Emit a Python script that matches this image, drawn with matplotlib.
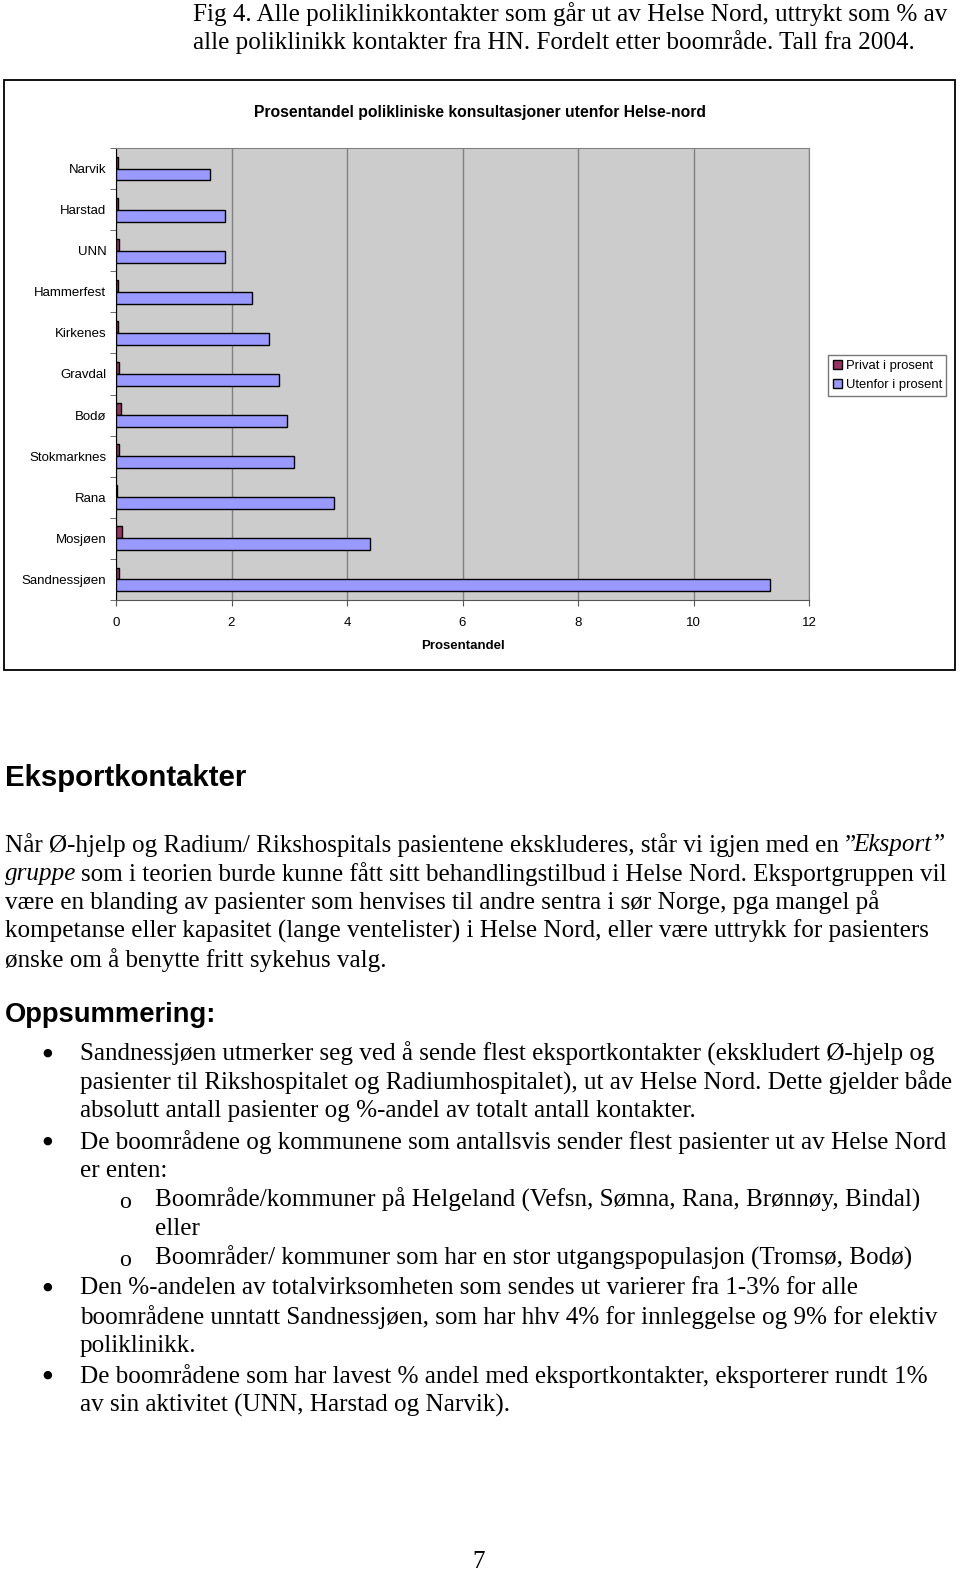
import matplotlib.pyplot as plt
import matplotlib.patches as mpatches
import numpy as np

# data lest av figuren (prosent)
boomrader = ["Narvik", "Harstad", "UNN", "Hammerfest", "Kirkenes", "Gravdal",
             "Bodø", "Stokmarknes", "Rana", "Mosjøen", "Sandnessjøen"]
privat = [0.03, 0.03, 0.06, 0.03, 0.03, 0.06, 0.08, 0.05, 0.02, 0.10, 0.06]
utenfor = [1.63, 1.89, 1.89, 2.35, 2.65, 2.83, 2.96, 3.08, 3.77, 4.39, 11.32]
x_ticks = [0, 2, 4, 6, 8, 10, 12]

caption = ["Fig 4. Alle poliklinikkontakter som går ut av Helse Nord, uttrykt som % av",
           "alle poliklinikk kontakter fra HN. Fordelt etter boområde. Tall fra 2004."]
chart_title = "Prosentandel polikliniske konsultasjoner utenfor Helse-nord"

W, H = 960, 1573
SERIF = "Liberation Serif"
SANS = "Liberation Sans"
DY = 5  # liten forskyvning nedover for tekst


def fx(px):
    return px / W


def fy(py):
    return 1 - (py + DY) / H


fig = plt.figure(figsize=(W / 100, H / 100), dpi=100)
fs = 18.1

# figurtekst over diagrammet
for i, linje in enumerate(caption):
    fig.text(fx(193), fy(9 + 28.5 * i), linje, family=SERIF, fontsize=fs,
             va="center", ha="left")

# ramme rundt diagrammet
fig.patches.append(mpatches.Rectangle((fx(4), 1 - 670 / H), fx(951), 590 / H,
                                      transform=fig.transFigure, fill=False,
                                      edgecolor="black", linewidth=1.3))
fig.text(fx(480), fy(108), chart_title, family=SANS, fontsize=11.3,
         fontweight="bold", ha="center", va="center")

ax = fig.add_axes([fx(116), 1 - 600 / H, 693 / W, 452 / H])
ax.set_facecolor("#cccccc")
y = np.arange(len(boomrader))
h = 0.29
ax.barh(y - h / 2, privat, height=h, color="#993366", edgecolor="black",
        linewidth=1, label="Privat i prosent", zorder=3)
ax.barh(y + h / 2, utenfor, height=h, color="#9999ff", edgecolor="black",
        linewidth=1, label="Utenfor i prosent", zorder=3)
ax.set_xlim(0, 12)
ax.set_ylim(len(boomrader) - 0.5, -0.5)
ax.set_xticks(x_ticks)
ax.set_xticklabels([str(t) for t in x_ticks], family=SANS, fontsize=9.5)
ax.set_yticks(y)
ax.set_yticklabels(boomrader, family=SANS, fontsize=9.5)
ax.set_yticks(np.arange(len(boomrader) + 1) - 0.5, minor=True)
ax.tick_params(axis="y", which="major", length=0, pad=7)
ax.tick_params(axis="y", which="minor", length=4, color="#555555")
ax.tick_params(axis="x", length=4, color="#555555", pad=8)
ax.grid(axis="x", color="#808080", linewidth=1, zorder=0)
ax.spines["left"].set_color("black")
ax.spines["bottom"].set_color("#555555")
ax.spines["top"].set_color("#808080")
ax.spines["right"].set_color("#808080")
ax.set_xlabel("Prosentandel", family=SANS, fontsize=9.5, fontweight="bold",
              labelpad=8)

leg = fig.legend(loc="upper left", bbox_to_anchor=(fx(828), 1 - 355 / H),
                 prop={"family": SANS, "size": 9.4}, frameon=True, fancybox=False,
                 handlelength=0.7, handleheight=0.7, handletextpad=0.3,
                 borderpad=0.35, labelspacing=0.55, borderaxespad=0)
leg.get_frame().set_edgecolor("#555555")
leg.get_frame().set_linewidth(1)

# overskrifter
fig.text(fx(5), fy(773), "Eksportkontakter", family=SANS, fontsize=21.2,
         fontweight="bold", va="center")
fig.text(fx(5), fy(1010), "Oppsummering:", family=SANS, fontsize=19.7,
         fontweight="bold", va="center")

# avsnitt
fig.text(fx(5), fy(840), "Når Ø-hjelp og Radium/ Rikshospitals pasientene ekskluderes, står vi igjen med en ”",
         family=SERIF, fontsize=fs, va="center")
fig.text(fx(946), fy(840), "Eksport”", family=SERIF, fontsize=fs,
         style="italic", va="center", ha="right")
fig.text(fx(5), fy(869), "gruppe", family=SERIF, fontsize=fs, style="italic",
         va="center")
fig.text(fx(81), fy(869), "som i teorien burde kunne fått sitt behandlingstilbud i Helse Nord. Eksportgruppen vil",
         family=SERIF, fontsize=fs, va="center")
avsnitt = ["være en blanding av pasienter som henvises til andre sentra i sør Norge, pga mangel på",
           "kompetanse eller kapasitet (lange ventelister) i Helse Nord, eller være uttrykk for pasienters",
           "ønske om å benytte fritt sykehus valg."]
for i, linje in enumerate(avsnitt):
    fig.text(fx(5), fy(897 + 29 * i), linje, family=SERIF, fontsize=fs,
             va="center")

# punktliste: (nivå, punkt?, tekst, y)
punkter = [
    (0, True, "Sandnessjøen utmerker seg ved å sende flest eksportkontakter (ekskludert Ø-hjelp og", 1049),
    (0, False, "pasienter til Rikshospitalet og Radiumhospitalet), ut av Helse Nord. Dette gjelder både", 1078),
    (0, False, "absolutt antall pasienter og %-andel av totalt antall kontakter.", 1106),
    (0, True, "De boområdene og kommunene som antallsvis sender flest pasienter ut av Helse Nord", 1137),
    (0, False, "er enten:", 1166),
    (1, True, "Boområde/kommuner på Helgeland (Vefsn, Sømna, Rana, Brønnøy, Bindal)", 1195),
    (1, False, "eller", 1224),
    (1, True, "Boområder/ kommuner som har en stor utgangspopulasjon (Tromsø, Bodø)", 1253),
    (0, True, "Den %-andelen av totalvirksomheten som sendes ut varierer fra 1-3% for alle", 1283),
    (0, False, "boområdene unntatt Sandnessjøen, som har hhv 4% for innleggelse og 9% for elektiv", 1312),
    (0, False, "poliklinikk.", 1341),
    (0, True, "De boområdene som har lavest % andel med eksportkontakter, eksporterer rundt 1%", 1371),
    (0, False, "av sin aktivitet (UNN, Harstad og Narvik).", 1400),
]
for niva, punkt, tekst, py in punkter:
    tx = 80 if niva == 0 else 155
    if punkt:
        if niva == 0:
            fig.text(fx(47), fy(py - 1), "●", family="DejaVu Sans", fontsize=8,
                     va="center", ha="center")
        else:
            fig.text(fx(125), fy(py + 2), "o", family=SERIF, fontsize=fs - 1,
                     va="center", ha="center")
    fig.text(fx(tx), fy(py), tekst, family=SERIF, fontsize=fs, va="center")

fig.text(fx(479), fy(1557), "7", family=SERIF, fontsize=fs, va="center",
         ha="center")

fig.savefig("out.png", dpi=100)
